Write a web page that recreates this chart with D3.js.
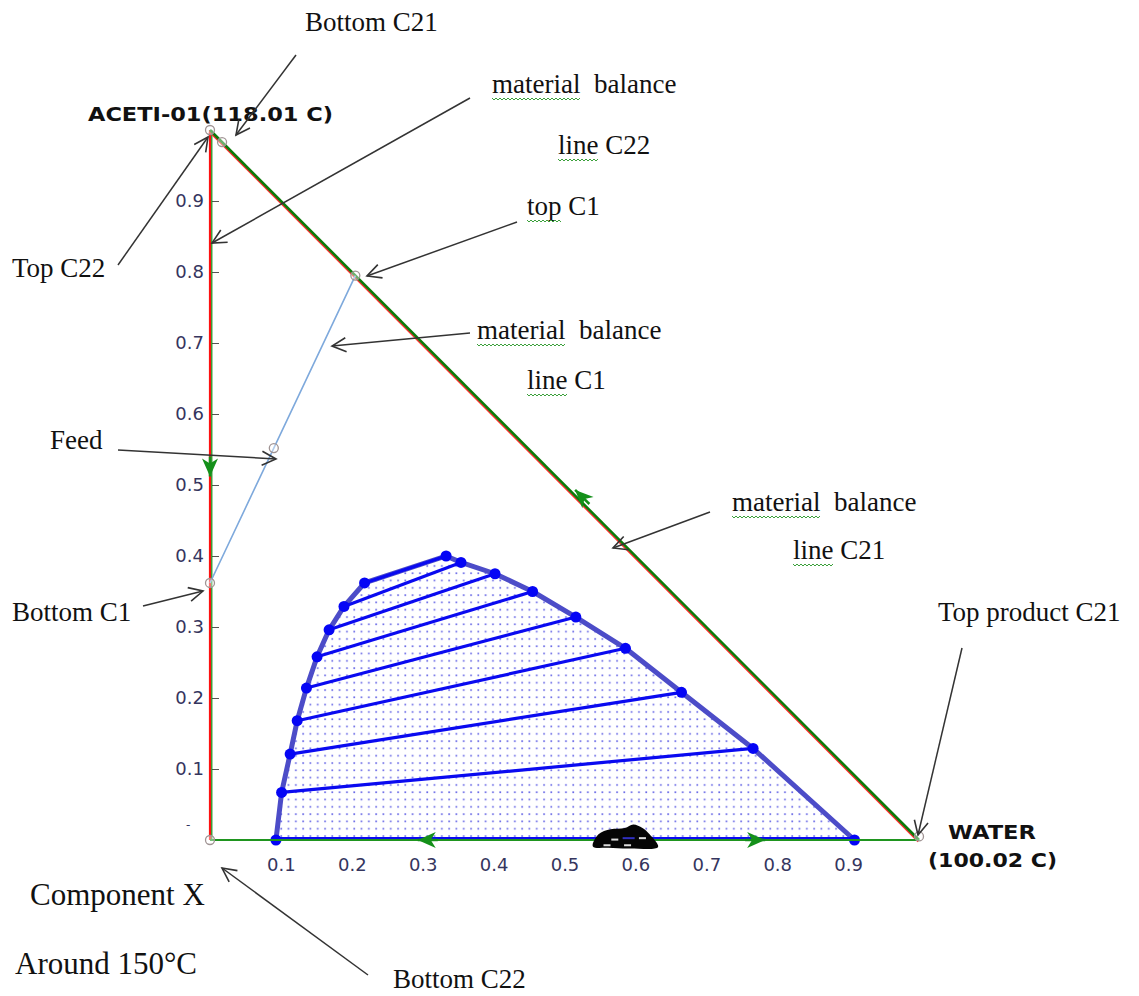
<!DOCTYPE html>
<html>
<head>
<meta charset="utf-8">
<script src="https://cdn.jsdelivr.net/npm/d3@7"></script>
<style>
  body { margin: 0; background: #fff; }
  svg { display: block; }
  .tick text { font-family: "DejaVu Sans", sans-serif; font-size: 18px; }
</style>
</head>
<body>
<div id="chart"></div>
<script>
// axis ticks
const xTicks = [0.1, 0.2, 0.3, 0.4, 0.5, 0.6, 0.7, 0.8, 0.9];
const yTicks = [0.1, 0.2, 0.3, 0.4, 0.5, 0.6, 0.7, 0.8, 0.9];

// binodal curve, left (acid rich) branch bottom -> top, right branch top -> bottom
const leftBranch = [
  [0.093, 0.0], [0.101, 0.067], [0.113, 0.121], [0.123, 0.168], [0.136, 0.214],
  [0.151, 0.258], [0.168, 0.296], [0.189, 0.329], [0.218, 0.362], [0.333, 0.400]
];
const rightBranch = [
  [0.354, 0.391], [0.402, 0.375], [0.455, 0.350], [0.516, 0.314], [0.586, 0.270],
  [0.665, 0.208], [0.766, 0.129], [0.909, 0.0]
];
// tie lines: left branch index -> right end point
const tieRight = [
  [0.909, 0.0], [0.766, 0.129], [0.665, 0.208], [0.586, 0.270], [0.516, 0.314],
  [0.455, 0.350], [0.402, 0.375], [0.354, 0.391], [0.333, 0.400]
];

// material balance line C1: bottom C1 -> feed -> top C1
const lineC1 = [[0, 0.362], [0.090, 0.552], [0.205, 0.795]];
// stream points (open markers)
const streamPts = [[0, 1], [0.017, 0.983], [0.205, 0.795], [0.090, 0.552], [0, 0.362], [0, 0], [1, 0.005]];
// direction arrows on the triangle edges: tip, and the point it heads to
const flowArrows = [
  { at: [0, 0.512], to: [0, 0] },
  { at: [0.515, 0.493], to: [0, 1] },
  { at: [0.293, 0], to: [0, 0] },
  { at: [0.783, 0], to: [1, 0] }
];
// the black blob sitting on the base
const blob = [
  [0.540, -0.009], [0.548, 0.008], [0.565, 0.015], [0.585, 0.017], [0.597, 0.022],
  [0.610, 0.017], [0.620, 0.008], [0.632, -0.010], [0.592, -0.012], [0.562, -0.011]
];

// annotations: text, x, y, word with spell-check squiggle
const notes = [
  ["Bottom C21", 305, 31, null],
  ["material  balance", 492, 93, "material"],
  ["line C22", 558, 154, "line"],
  ["top C1", 527, 215, "top"],
  ["Top C22", 12, 277, null],
  ["material  balance", 477, 339, "material"],
  ["line C1", 527, 389, "line"],
  ["Feed", 50, 449, null],
  ["material  balance", 732, 511, "material"],
  ["line C21", 793, 559, "line"],
  ["Bottom C1", 12, 621, null],
  ["Top product C21", 938, 621, null],
  ["Bottom C22", 393, 988, null]
];
const bigNotes = [["Component X", 30, 905], ["Around 150\u00B0C", 15, 974]];
// annotation arrows: tail x, y -> tip x, y
const pointers = [
  [296, 55, 236, 135], [470, 98, 212, 243], [517, 222, 367, 276], [118, 265, 208, 137],
  [470, 333, 332, 346], [118, 450, 276, 459], [710, 512, 613, 548], [143, 606, 203, 591],
  [962, 648, 918, 835], [368, 975, 222, 868]
];

const width = 1139, height = 996;
const svg = d3.select('#chart').append('svg')
  .attr('width', width).attr('height', height)
  .style('background', '#fff');

const x = d3.scaleLinear().domain([0, 1]).range([210, 919]);
const y = d3.scaleLinear().domain([0, 1]).range([840, 130]);

const defs = svg.append('defs');
const pat = defs.append('pattern')
  .attr('id', 'dots').attr('patternUnits', 'userSpaceOnUse')
  .attr('width', 7.3).attr('height', 7.3);
pat.append('rect').attr('x', 3).attr('y', 3).attr('width', 1.7).attr('height', 1.7)
  .attr('fill', '#6b6be6');

defs.append('marker')
  .attr('id', 'open').attr('markerUnits', 'userSpaceOnUse')
  .attr('markerWidth', 20).attr('markerHeight', 20)
  .attr('refX', 16).attr('refY', 8).attr('orient', 'auto')
  .append('path').attr('d', 'M2,1 L16,8 L2,15')
  .attr('fill', 'none').attr('stroke', '#333').attr('stroke-width', 1.6);

const line = d3.line().x(d => x(d[0])).y(d => y(d[1]));

// two-phase region
const region = leftBranch.concat(rightBranch);
svg.append('path').attr('d', line(region) + 'Z').attr('fill', 'url(#dots)');

// axes ticks/labels
const yAxis = svg.append('g').attr('transform', `translate(${x(0)},0)`)
  .call(d3.axisLeft(y).tickValues(yTicks).tickSize(-7).tickPadding(6).tickFormat(d3.format('.1f')))
  .attr('font-size', 18).attr('font-family', 'DejaVu Sans, sans-serif');
yAxis.select('.domain').remove();
yAxis.selectAll('line').attr('stroke', '#555').attr('transform', 'translate(2,0)');
const xAxis = svg.append('g').attr('transform', `translate(0,${y(0)})`)
  .call(d3.axisBottom(x).tickValues(xTicks).tickSize(0).tickPadding(18).tickFormat(d3.format('.1f')))
  .attr('font-size', 18).attr('font-family', 'DejaVu Sans, sans-serif');
xAxis.select('.domain').remove();
svg.selectAll('.tick text').attr('fill', '#35355e');
svg.append('text').attr('x', 186).attr('y', 829).attr('font-size', 12)
  .attr('font-family', 'DejaVu Sans').attr('fill', '#35355e').text('-');

// triangle edges / material balance lines
svg.append('path').attr('d', line([[0, 0], [0, 1]]))
  .attr('stroke', '#ff1010').attr('stroke-width', 2.2).attr('fill', 'none');
svg.append('path').attr('d', line([[0, 0], [0, 1]])).attr('transform', 'translate(1.8,0)')
  .attr('stroke', '#108a10').attr('stroke-width', 1.2).attr('fill', 'none');
svg.append('path').attr('d', line([[0, 1], [1, 0]])).attr('transform', 'translate(-0.8,1.6)')
  .attr('stroke', '#ff2a2a').attr('stroke-width', 1.6).attr('fill', 'none');
svg.append('path').attr('d', line([[0, 1], [1, 0]]))
  .attr('stroke', '#0a7a0a').attr('stroke-width', 2.6).attr('fill', 'none');
svg.append('path').attr('d', line(lineC1))
  .attr('stroke', '#7ea9dc').attr('stroke-width', 1.6).attr('fill', 'none');

// binodal envelope
svg.append('path').attr('d', line(region))
  .attr('stroke', '#4c4cc8').attr('stroke-width', 5).attr('fill', 'none')
  .attr('stroke-linejoin', 'round');
// tie lines
svg.selectAll('.tie').data(tieRight).enter().append('path')
  .attr('d', (d, i) => line([leftBranch[i], d])).attr('transform', (d, i) => i === 0 ? 'translate(0,-2)' : null)
  .attr('stroke', '#0a0af0').attr('stroke-width', (d, i) => i === 0 ? 2 : 3.2).attr('fill', 'none');
svg.selectAll('.bdot').data(region).enter().append('circle')
  .attr('cx', d => x(d[0])).attr('cy', d => y(d[1])).attr('r', 5.5).attr('fill', '#0505f5');

// base edge drawn over the blue
svg.append('path').attr('d', line([[0, 0], [1, 0]]))
  .attr('stroke', '#1f951f').attr('stroke-width', 2).attr('fill', 'none');

// flow direction arrows
flowArrows.forEach(a => {
  const tx = x(a.at[0]), ty = y(a.at[1]);
  const ang = Math.atan2(y(a.to[1]) - ty, x(a.to[0]) - tx);
  const g = svg.append('g').attr('transform', `translate(${tx},${ty}) rotate(${ang * 180 / Math.PI})`);
  g.append('path').attr('d', 'M0,0 L-18,-8 L-13,0 L-18,8 Z').attr('fill', '#14901a');
  g.append('path').attr('d', 'M0,0 L-20,0').attr('stroke', '#14901a').attr('stroke-width', 2.5);
});

// blob on the base
svg.append('path').attr('d', d3.line().x(d => x(d[0])).y(d => y(d[1])).curve(d3.curveCatmullRomClosed)(blob))
  .attr('fill', '#050505');
[[0.566, 0.002], [0.584, -0.006], [0.605, 0.004], [0.555, -0.006]].forEach(p => {
  svg.append('rect').attr('x', x(p[0])).attr('y', y(p[1])).attr('width', 7).attr('height', 2)
    .attr('fill', '#ddd');
});
svg.append('rect').attr('x', x(0.582)).attr('y', y(0.004)).attr('width', 12).attr('height', 2)
  .attr('fill', '#3030c0');

// stream markers
svg.selectAll('.mk').data(streamPts).enter().append('circle')
  .attr('cx', d => x(d[0])).attr('cy', d => y(d[1])).attr('r', 4.5)
  .attr('fill', 'rgba(255,255,255,0.4)').attr('stroke', '#a09494').attr('stroke-width', 1.3);

// vertex labels
const vFont = 'DejaVu Sans, Verdana, sans-serif';
svg.append('text').attr('x', 88).attr('y', 121).attr('font-family', vFont)
  .attr('font-weight', 'bold').style('font-size', '19px').attr('fill', '#111')
  .attr('textLength', 245).attr('lengthAdjust', 'spacingAndGlyphs').text('ACETI-01(118.01 C)');
svg.append('text').attr('x', 948).attr('y', 839).attr('font-family', vFont)
  .attr('font-weight', 'bold').style('font-size', '19px').attr('fill', '#111')
  .attr('textLength', 88).attr('lengthAdjust', 'spacingAndGlyphs').text('WATER');
svg.append('text').attr('x', 928).attr('y', 867).attr('font-family', vFont)
  .attr('font-weight', 'bold').style('font-size', '19px').attr('fill', '#111')
  .attr('textLength', 129).attr('lengthAdjust', 'spacingAndGlyphs').text('(100.02 C)');

// annotation arrows
svg.selectAll('.ptr').data(pointers).enter().append('line')
  .attr('x1', d => d[0]).attr('y1', d => d[1]).attr('x2', d => d[2]).attr('y2', d => d[3])
  .attr('stroke', '#333').attr('stroke-width', 1.5).attr('marker-end', 'url(#open)');

// annotation texts
const serif = 'Liberation Serif, Times New Roman, serif';
notes.forEach(n => {
  svg.append('text').attr('x', n[1]).attr('y', n[2])
    .attr('font-family', serif).attr('font-size', 27).attr('fill', '#111')
    .style('white-space', 'pre').text(n[0]);
  if (n[3]) {
    const tmp = svg.append('text').attr('font-family', serif).attr('font-size', 27).text(n[3]);
    const w = tmp.node().getComputedTextLength();
    tmp.remove();
    let d = `M${n[1]},${n[2] + 5}`;
    for (let k = 2; k <= w; k += 2) d += `L${n[1] + k},${n[2] + 5 + (k % 4 === 0 ? 0 : 2)}`;
    svg.append('path').attr('d', d).attr('fill', 'none')
      .attr('stroke', '#3aa03a').attr('stroke-width', 1);
  }
});
bigNotes.forEach(n => {
  svg.append('text').attr('x', n[1]).attr('y', n[2])
    .attr('font-family', serif).attr('font-size', 31).attr('fill', '#111').text(n[0]);
});
</script>
</body>
</html>
